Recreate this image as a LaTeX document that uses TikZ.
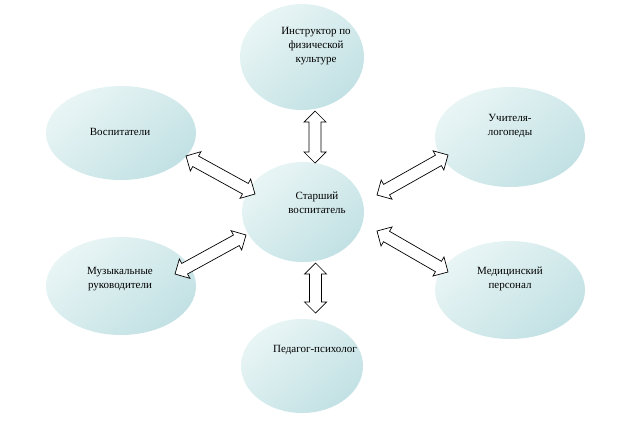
\documentclass[tikz,border=0pt]{standalone}
\usepackage{fontspec}
\setmainfont{Liberation Serif}
\usetikzlibrary{calc}
\definecolor{ellLight}{HTML}{E9F5F5}
\definecolor{ellDark}{HTML}{C2E1E4}
\tikzset{
  bub/.style={shading=axis, top color=ellLight, bottom color=ellDark, shading angle=40},
  lbl/.style={font=\fontsize{11}{14}\selectfont, align=center, text=black},
  blk/.style={draw=black, line width=0.7pt, fill=white, line join=miter},
}
\newcommand{\blockarr}[2]{%
  \coordinate (h1) at ($(#1)!11pt!(#2)$);
  \coordinate (h2) at ($(#2)!11pt!(#1)$);
  \draw[blk] (#1) -- ($(h1)!11pt!90:(#2)$) -- ($(h1)!6pt!90:(#2)$)
    -- ($(h2)!6pt!-90:(#1)$) -- ($(h2)!11pt!-90:(#1)$) -- (#2)
    -- ($(h2)!11pt!90:(#1)$) -- ($(h2)!6pt!90:(#1)$)
    -- ($(h1)!6pt!-90:(#2)$) -- ($(h1)!11pt!-90:(#2)$) -- cycle;}
\begin{document}
\begin{tikzpicture}[x=1pt,y=-1pt]
\useasboundingbox (0,0) rectangle (631,426);
% ellipses
\path[bub] (302,57) ellipse [x radius=62, y radius=53];
\path[bub] (303,212) ellipse [x radius=61, y radius=50];
\path[bub] (121,133) ellipse [x radius=75, y radius=47];
\path[bub] (510,137) ellipse [x radius=75, y radius=50];
\path[bub] (121,286) ellipse [x radius=75, y radius=49];
\path[bub] (510,290) ellipse [x radius=75, y radius=49];
\path[bub] (302,366) ellipse [x radius=61, y radius=47];
% labels
\node[lbl] (instr) at (316,46) {Инструктор по\\физической\\культуре};
\node[lbl] (center) at (317,203) {Старший\\воспитатель};
\node[lbl] (vosp) at (120,132) {Воспитатели};
\node[lbl] (logo) at (510,126) {Учителя-\\логопеды};
\node[lbl] (muz) at (120,279) {Музыкальные\\руководители};
\node[lbl] (med) at (510,279) {Медицинский\\персонал};
\node[lbl] (psy) at (315,350) {Педагог-психолог};
% arrow end points
\coordinate (t1) at (315,111); \coordinate (t2) at (315,163);
\coordinate (b1) at (315.5,263); \coordinate (b2) at (315.5,313);
\coordinate (v1) at (186,156); \coordinate (v2) at (255,194);
\coordinate (l1) at (377,195); \coordinate (l2) at (448,155);
\coordinate (m1) at (175,274); \coordinate (m2) at (246,235);
\coordinate (d1) at (377,231); \coordinate (d2) at (448,272);
\blockarr{t1}{t2}
\blockarr{b1}{b2}
\blockarr{v1}{v2}
\blockarr{l1}{l2}
\blockarr{m1}{m2}
\blockarr{d1}{d2}
\end{tikzpicture}
\end{document}
